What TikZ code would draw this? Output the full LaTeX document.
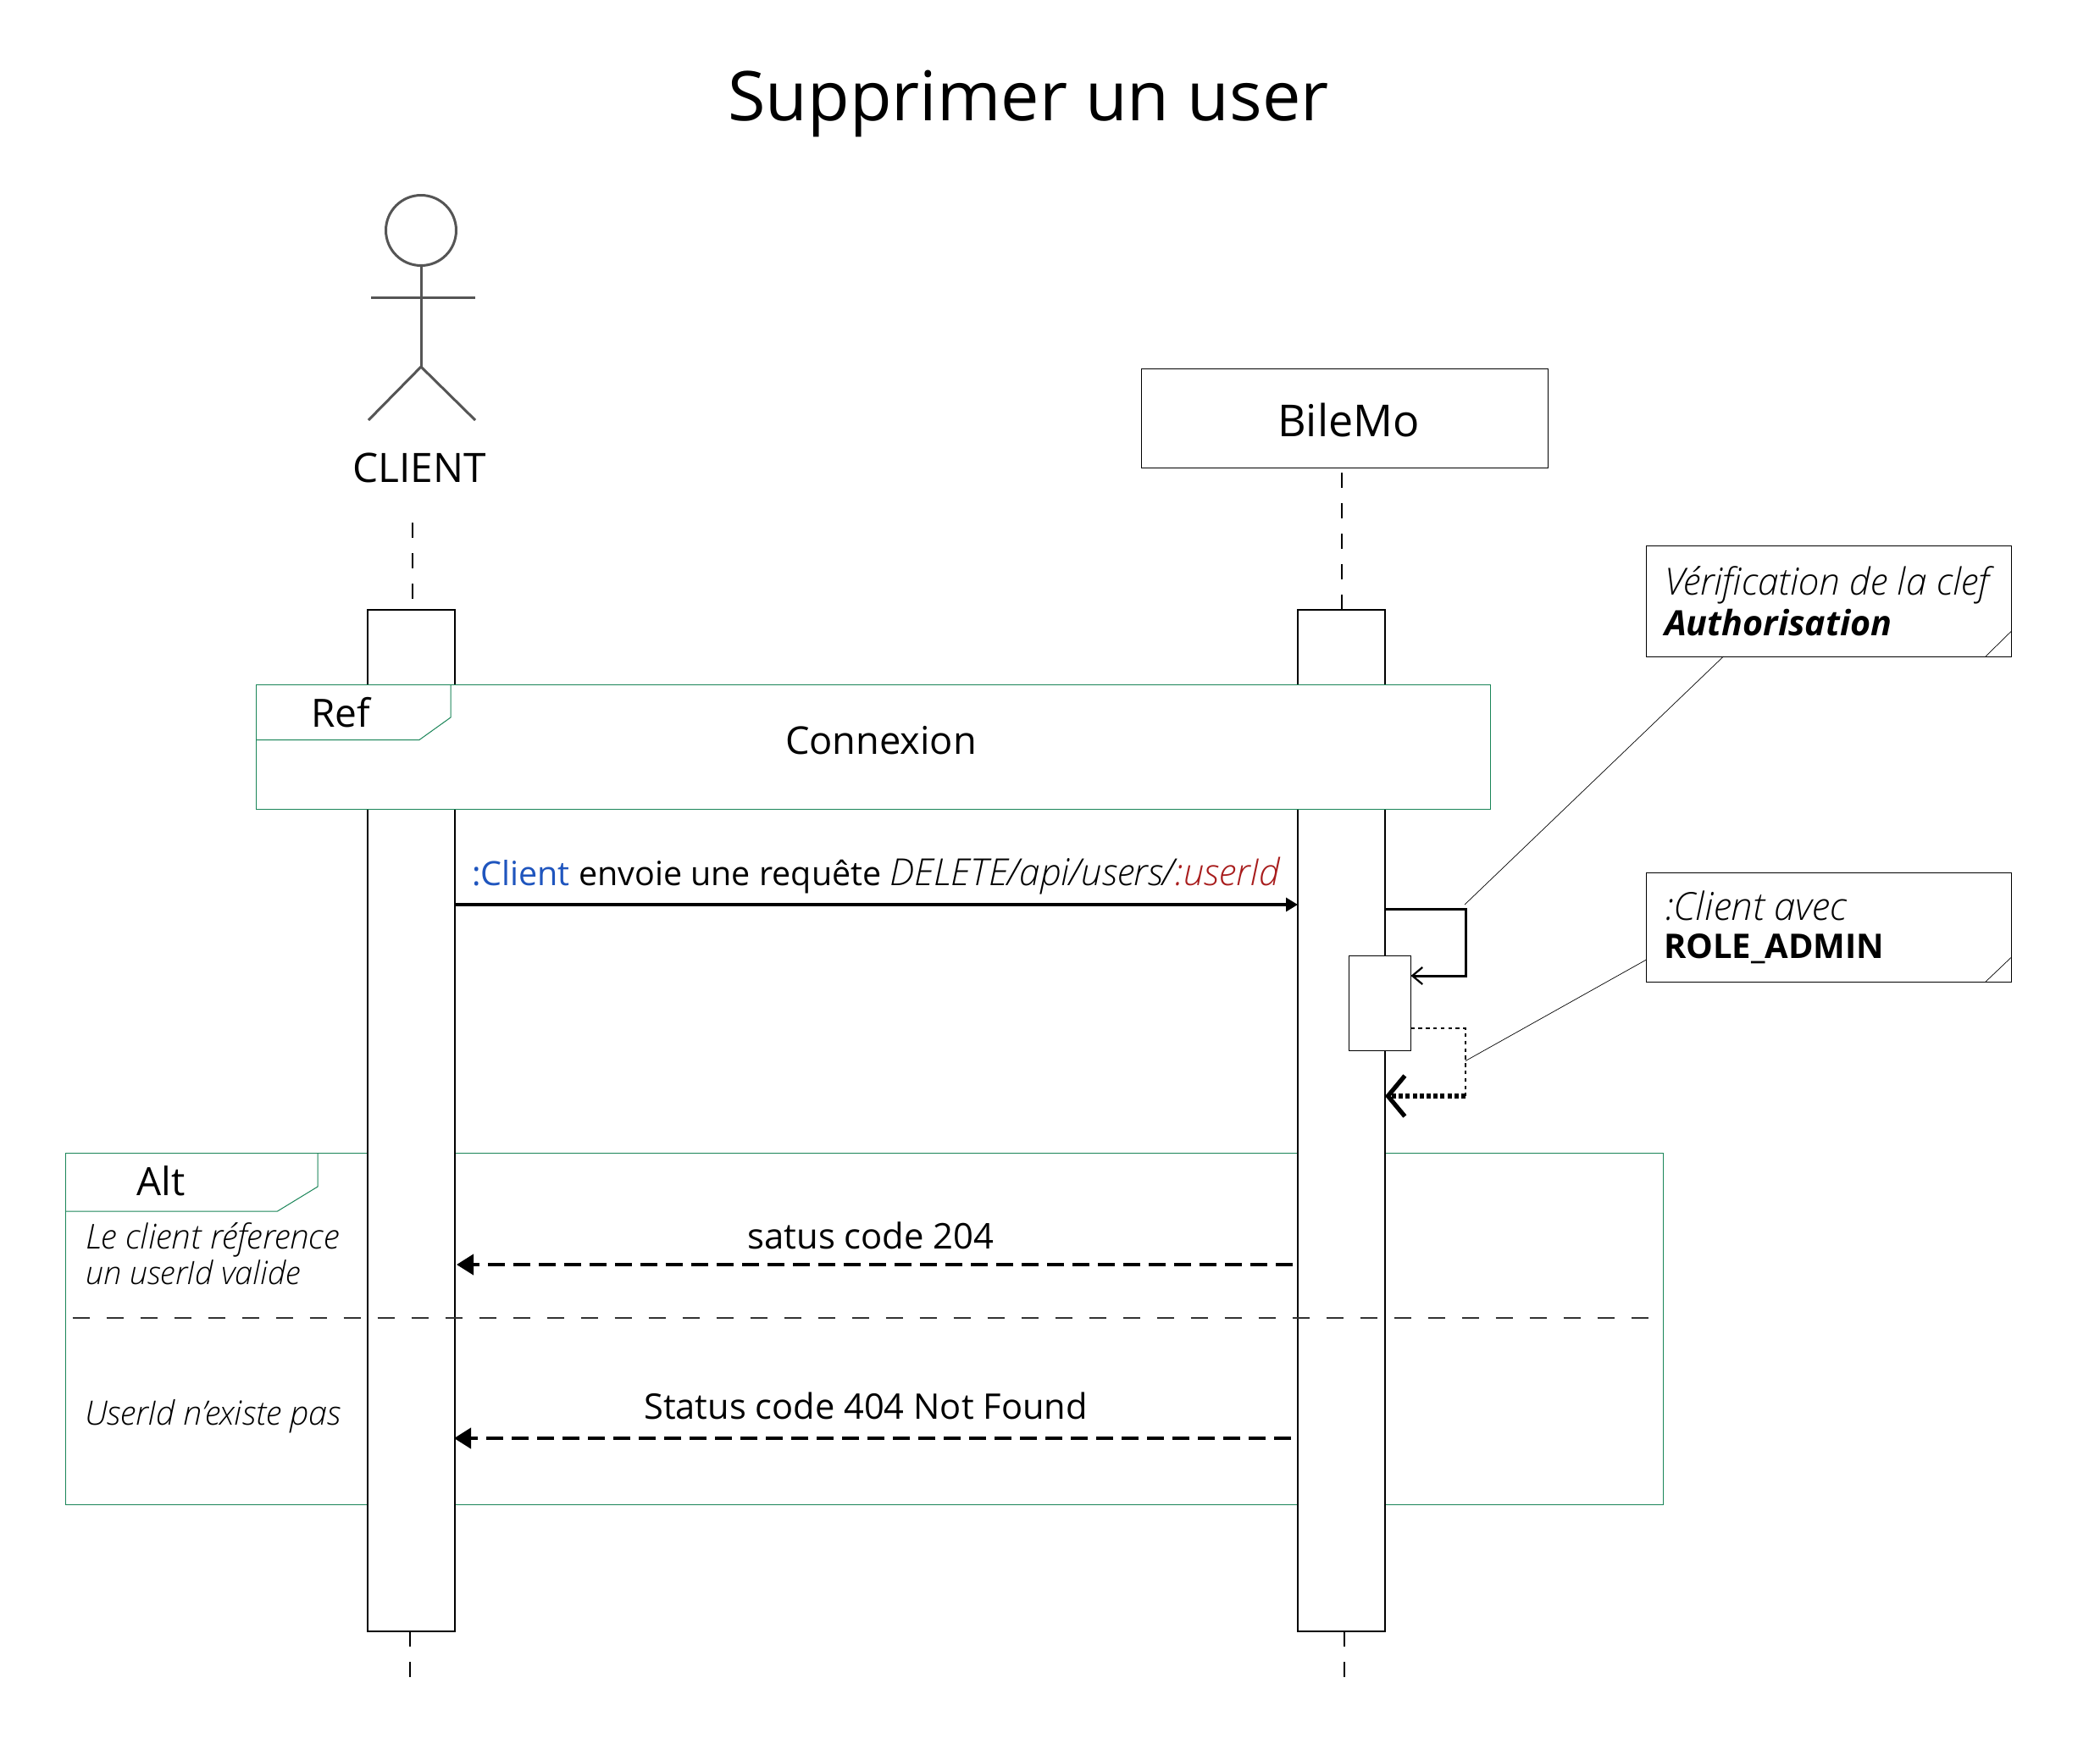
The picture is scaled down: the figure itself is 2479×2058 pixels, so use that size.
\documentclass[tikz,border=0pt]{standalone}
\usepackage{fontspec}
\setmainfont{Open Sans}
\newfontfamily\lightf{Open Sans Light}
\usetikzlibrary{arrows.meta}
\definecolor{frameg}{HTML}{1A8558}
\definecolor{actorg}{HTML}{555555}
\definecolor{cblue}{HTML}{1F55BE}
\definecolor{cred}{HTML}{A81C1C}
\newcommand\fs[1]{\fontsize{#1pt}{#1pt}\selectfont}
\tikzset{
  lbl/.style={inner sep=0pt,outer sep=0pt,text=black},
  boxed/.style={draw=black,fill=white,line width=0.8pt,inner sep=0pt,outer sep=0pt,anchor=north west},
  thinbox/.style={draw=black,fill=white,line width=0.5pt,inner sep=0pt,outer sep=0pt,anchor=north west},
  frameb/.style={draw=frameg,line width=0.5pt,inner sep=0pt,outer sep=0pt,anchor=north west},
  life/.style={draw=black,line width=0.6pt,dash pattern=on 9pt off 9pt},
  msg/.style={draw=black,line width=1.6pt,-{Triangle[length=7pt,width=8pt]}},
  reply/.style={draw=black,line width=2pt,dash pattern=on 10pt off 5pt,-{Triangle[length=10pt,width=12pt]}},
  actorline/.style={draw=actorg,line width=1.5pt},
  leader/.style={draw=black,line width=0.35pt},
}
\begin{document}
\begin{tikzpicture}[x=0.5pt,y=-0.5pt]
\useasboundingbox (0,0) rectangle (2479,2058);
\fill[white] (0,0) rectangle (2479,2058);
% Title
\node[lbl] (title) at (1214,122) {\fs{40.5}Supprimer un user};
% Actor
\node[circle,draw=actorg,line width=1.5pt,minimum size=41.5pt,inner sep=0pt,outer sep=0pt] (head) at (497,272) {};
\coordinate (hip) at (497,433);
\coordinate (arml) at (438,351);
\coordinate (armr) at (561,351);
\coordinate (legl) at (435,496);
\coordinate (legr) at (561,496);
\draw[actorline] (head.south) -- (hip);
\draw[actorline] (arml) -- (armr);
\draw[actorline] (legl) -- (hip) -- (legr);
\node[lbl] (client) at (495,552) {\fs{23.9}CLIENT};
% BileMo
\node[thinbox,minimum width=240pt,minimum height=58.5pt] (bile) at (1347,435) {};
\node[lbl] (biletxt) at (1592,496) {\fs{26}BileMo};
% Alt frame
\node[frameb,minimum width=943pt,minimum height=207.5pt] (alt) at (77.5,1361) {};
\coordinate (alttabr) at (375,1361);
\coordinate (alttabn) at (375,1401);
\coordinate (alttabm) at (327.5,1430);
\coordinate (alttabl) at (77.5,1430);
\draw[draw=frameg,line width=0.5pt] (alttabr) -- (alttabn) -- (alttabm) -- (alttabl);
% Activations
\node[boxed,minimum width=51.5pt,minimum height=603pt] (a1) at (434,720) {};
\node[boxed,minimum width=51.5pt,minimum height=603pt] (a2) at (1532,720) {};
% Lifelines
\coordinate (l1t) at (487,617);
\coordinate (l2t) at (1584,558);
\coordinate (l1b) at (484,1980);
\coordinate (l2b) at (1587,1980);
\draw[life] (l1t) -- (l1t |- a1.north);
\draw[life] (l2t) -- (l2t |- a2.north);
\draw[life] (l1b |- a1.south) -- (l1b);
\draw[life] (l2b |- a2.south) -- (l2b);
% Ref frame
\node[frameb,fill=white,minimum width=728.5pt,minimum height=73.5pt] (ref) at (302,808) {};
\coordinate (reftabr) at (532,808);
\coordinate (reftabn) at (532,847);
\coordinate (reftabm) at (495,873.5);
\coordinate (reftabl) at (302,873.5);
\draw[draw=frameg,line width=0.5pt] (reftabr) -- (reftabn) -- (reftabm) -- (reftabl);
\node[lbl] (reftxt) at (402,841) {\fs{23}Ref};
\node[lbl] (conn) at (1040,874) {\fs{22.6}Connexion};
% Message
\coordinate (ym) at (0,1068);
\draw[msg] (a1.east |- ym) -- (a2.west |- ym);
\node[lbl,anchor=base west] (mtxt) at (557,1045) {\fs{19.75}\textcolor{cblue}{:Client} envoie une requête {\fs{22}\lightf\itshape DELETE/api/users/\textcolor{cred}{:userId}}};
% Self call
\node[thinbox,minimum width=36.75pt,minimum height=56pt] (sm) at (1592,1128) {};
\coordinate (y3) at (0,1073);
\coordinate (x3) at (1730,0);
\coordinate (y4) at (0,1152);
\coordinate (y5) at (0,1214);
\coordinate (y6) at (0,1294);
\draw[draw=black,line width=1.5pt,-{Straight Barb[length=6pt,width=10pt,line width=1.1pt]}] (a2.east |- y3) -- (x3 |- y3) -- (x3 |- y4) -- (sm.east |- y4);
\draw[draw=black,line width=1.4pt,dash pattern=on 2.2pt off 2.2pt] (sm.east |- y5) -- (x3 |- y5) -- (x3 |- y6);
\draw[draw=black,line width=2.8pt,dash pattern=on 2.5pt off 1.6pt,-{Straight Barb[length=10pt,width=24pt,line width=2.6pt]}] (x3 |- y6) -- (a2.east |- y6);
% Replies
\coordinate (r1s) at (1526,1493);
\coordinate (r1e) at (539,1493);
\coordinate (r2s) at (1524,1698);
\coordinate (r2e) at (536,1698);
\draw[reply] (r1s) -- (r1e);
\draw[reply] (r2s) -- (r2e);
\node[lbl] (r1t) at (1028,1459) {\fs{20.9}satus code 204};
\node[lbl] (r2t) at (1022,1660) {\fs{20.8}Status code 404 Not Found};
% Alt texts
\node[lbl] (alttxt) at (190,1394) {\fs{23}Alt};
\node[lbl,anchor=base west] (altc1) at (101,1474) {\fs{20.2}\lightf\itshape Le client réference};
\node[lbl,anchor=base west] (altc2) at (101,1516) {\fs{19}\lightf\itshape un userId valide};
\node[lbl,anchor=base west] (altc3) at (100,1682) {\fs{19.8}\lightf\itshape UserId n’existe pas};
\coordinate (sepl) at (85.6,1556);
\coordinate (sepr) at (1956,1556);
\draw[draw=black!80,line width=1pt,dash pattern=on 10pt off 10pt] (sepl) -- (sepr);
% Notes
\node[thinbox,minimum width=215.5pt,minimum height=65.5pt] (n1) at (1943.5,644) {};
\node[thinbox,minimum width=215.5pt,minimum height=64.5pt] (n2) at (1943.5,1030) {};
\coordinate (n1a) at (2344,775);
\coordinate (n1b) at (2374.5,745);
\coordinate (n2a) at (2344,1159);
\coordinate (n2b) at (2374.5,1130);
\draw[leader] (n1a) -- (n1b);
\draw[leader] (n2a) -- (n2b);
\coordinate (n1c) at (2034.5,775);
\coordinate (s1c) at (1729,1068);
\coordinate (n2c) at (1943.5,1133);
\coordinate (s2c) at (1730,1252.5);
\draw[leader] (n1c) -- (s1c);
\draw[leader] (n2c) -- (s2c);
\node[lbl,anchor=base west] (n1t1) at (1965,702) {\fs{22.1}\lightf\itshape Vérification de la clef};
\node[lbl,anchor=base west] (n1t2) at (1965,750) {\fs{20.6}\bfseries\itshape Authorisation};
\node[lbl,anchor=base west] (n2t1) at (1965,1086) {\fs{22.8}\lightf\itshape :Client avec};
\node[lbl,anchor=base west] (n2t2) at (1964,1131) {\fs{20}\bfseries ROLE\_ADMIN};
\end{tikzpicture}
\end{document}
